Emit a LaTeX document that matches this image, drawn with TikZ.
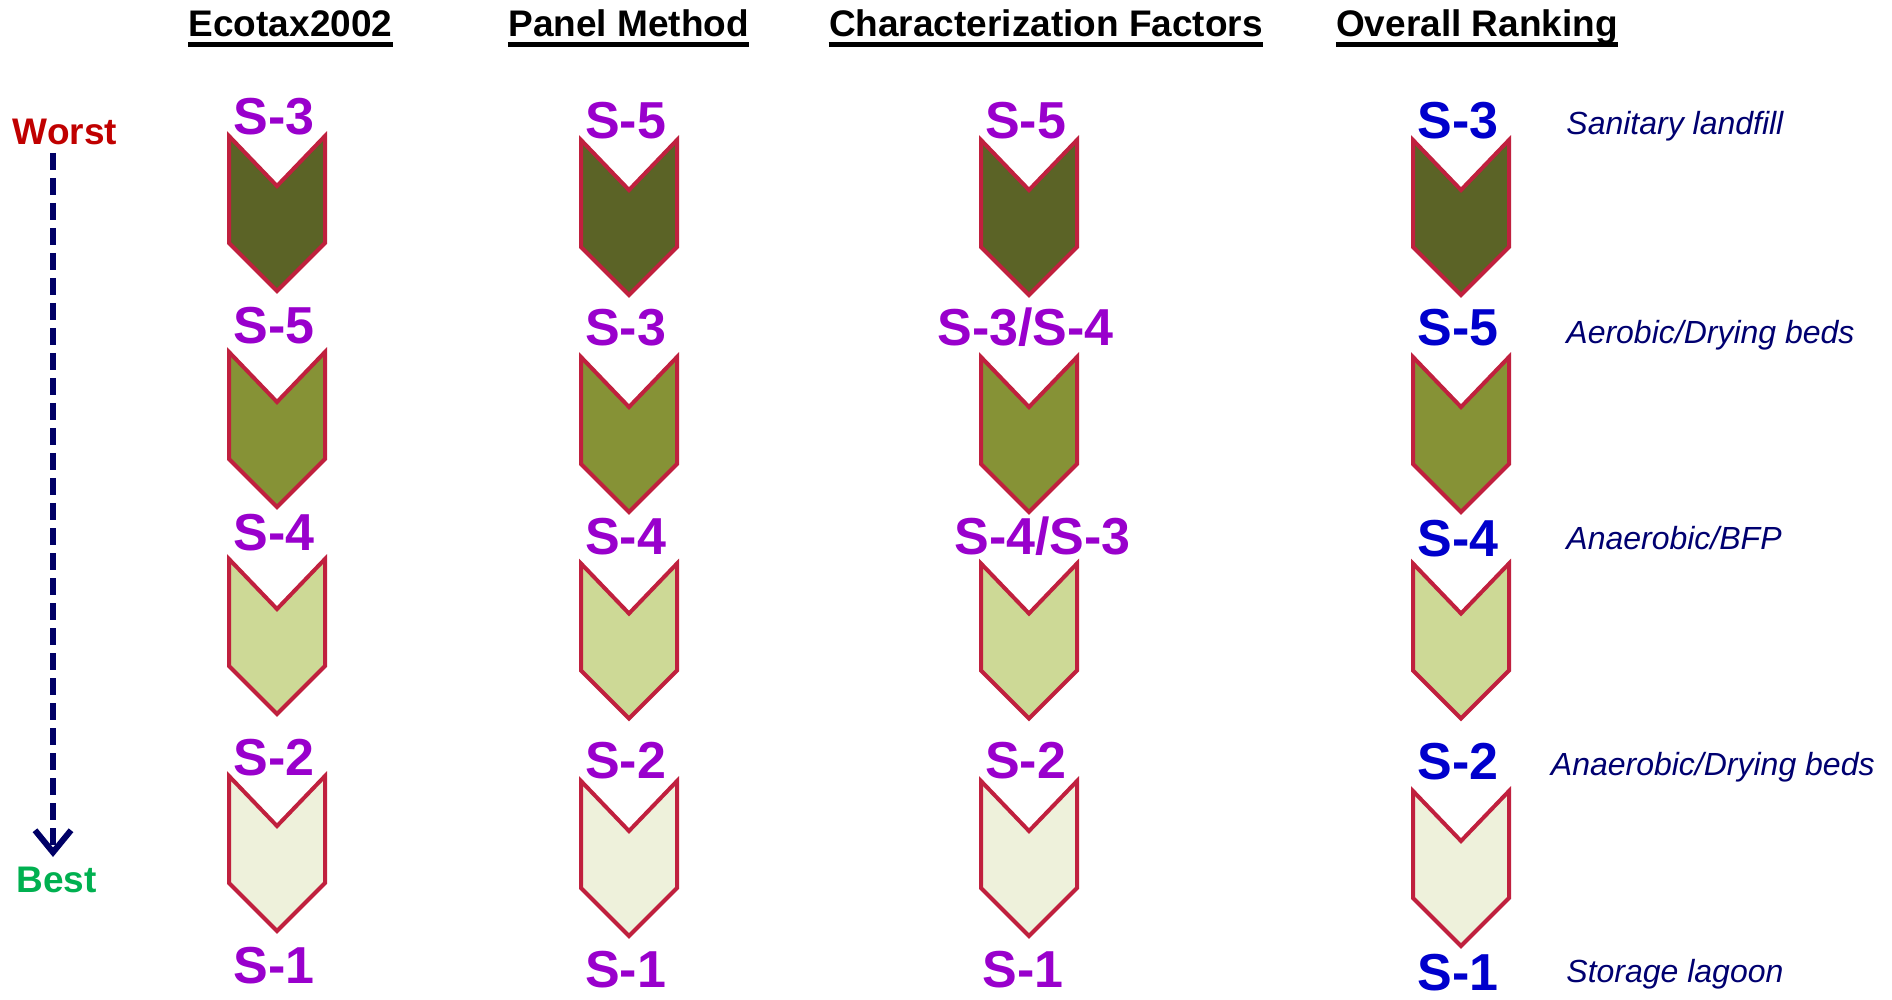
\documentclass[tikz,border=0pt]{standalone}
\usepackage{fontspec}
\setmainfont{Liberation Sans}
\usetikzlibrary{arrows.meta}

\definecolor{rankpurple}{HTML}{9900CC}
\definecolor{rankblue}{HTML}{0000CC}
\definecolor{descnavy}{HTML}{000070}
\definecolor{arrownavy}{HTML}{000066}
\definecolor{worstred}{HTML}{C00000}
\definecolor{bestgreen}{HTML}{00B050}
\definecolor{chevborder}{HTML}{C0203E}
\definecolor{levelA}{HTML}{5B6326}
\definecolor{levelB}{HTML}{869236}
\definecolor{levelC}{HTML}{CDD996}
\definecolor{levelD}{HTML}{EEF1DB}

% chevron: centre x, top y, fill colour
\newcommand{\chevronshape}[3]{%
  \filldraw[chev, fill=#3] (#1-48,#2) -- (#1,#2+50) -- (#1+48,#2)
    -- (#1+48,#2+107) -- (#1,#2+155) -- (#1-48,#2+107) -- cycle;}

\begin{document}
\begin{tikzpicture}[x=0.5pt,y=-0.5pt,
  hdr/.style={font=\fontsize{18.5}{22}\selectfont\bfseries, anchor=base, inner sep=0pt},
  rank/.style={font=\fontsize{26}{30}\selectfont\bfseries, text=rankpurple, anchor=base, inner sep=0pt},
  final/.style={rank, text=rankblue},
  desc/.style={font=\fontsize{16}{19}\selectfont\itshape, text=descnavy, anchor=base west, inner sep=0pt},
  scale label/.style={font=\fontsize{18.5}{22}\selectfont\bfseries, anchor=base, inner sep=0pt},
  chev/.style={draw=chevborder, line width=2pt, line join=miter}]
\useasboundingbox (0,0) rectangle (1892,1000);

% column headings, underlined
\foreach \hx/\hname/\htext in {290.5/h1/Ecotax2002, 628.6/h2/Panel Method,
    1046/h3/Characterization Factors, 1477/h4/Overall Ranking} {
  \node[hdr] (\hname) at (\hx,37) {\htext};
  \draw[line width=2.5pt] ([yshift=-3.8pt]\hname.base west) -- ([yshift=-3.8pt]\hname.base east);
}

% worst -> best scale
\node[scale label, text=worstred] (worst) at (65,145) {Worst};
\node[scale label, text=bestgreen] (best) at (56.5,892.5) {Best};
\coordinate (scaletop) at (53,153);
\coordinate (scalebot) at (53,857);
\draw[arrownavy, line width=3pt, dash pattern=on 8.5pt off 4pt,
  -{Straight Barb[length=11pt,width=18pt,line width=3pt]}] (scaletop) -- (scalebot);

% Ecotax2002
\chevronshape{277}{136}{levelA}
\chevronshape{277}{352}{levelB}
\chevronshape{277}{559}{levelC}
\chevronshape{277}{776}{levelD}
\node[rank] (e1) at (274,135) {S-3};
\node[rank] (e2) at (274,344) {S-5};
\node[rank] (e3) at (274,550) {S-4};
\node[rank] (e4) at (274,775) {S-2};
\node[rank] (e5) at (274,983) {S-1};

% Panel method
\chevronshape{629}{140}{levelA}
\chevronshape{629}{357}{levelB}
\chevronshape{629}{563.5}{levelC}
\chevronshape{629}{781}{levelD}
\node[rank] (p1) at (625.5,139) {S-5};
\node[rank] (p2) at (625.5,346) {S-3};
\node[rank] (p3) at (625.5,554) {S-4};
\node[rank] (p4) at (625.5,778) {S-2};
\node[rank] (p5) at (625.5,987) {S-1};

% Characterization factors
\chevronshape{1029}{140}{levelA}
\chevronshape{1029}{357}{levelB}
\chevronshape{1029}{563.5}{levelC}
\chevronshape{1029}{781}{levelD}
\node[rank] (c1) at (1025.6,139) {S-5};
\node[rank] (c2) at (1025.6,346) {S-3/S-4};
\node[rank] (c3) at (1042.5,554) {S-4/S-3};
\node[rank] (c4) at (1025.6,778) {S-2};
\node[rank] (c5) at (1023,987) {S-1};

% Overall ranking
\chevronshape{1461}{140}{levelA}
\chevronshape{1461}{357}{levelB}
\chevronshape{1461}{563.5}{levelC}
\chevronshape{1461}{791}{levelD}
\node[final] (o1) at (1458,139) {S-3};
\node[final] (o2) at (1458,346) {S-5};
\node[final] (o3) at (1458,556) {S-4};
\node[final] (o4) at (1458,779) {S-2};
\node[final] (o5) at (1458,990) {S-1};

\node[desc] (d1) at (1566,134.5) {Sanitary landfill};
\node[desc] (d2) at (1566,343.5) {Aerobic/Drying beds};
\node[desc] (d3) at (1566,549.5) {Anaerobic/BFP};
\node[desc] (d4) at (1550.5,775.5) {Anaerobic/Drying beds};
\node[desc] (d5) at (1566,982) {Storage lagoon};
\end{tikzpicture}
\end{document}
